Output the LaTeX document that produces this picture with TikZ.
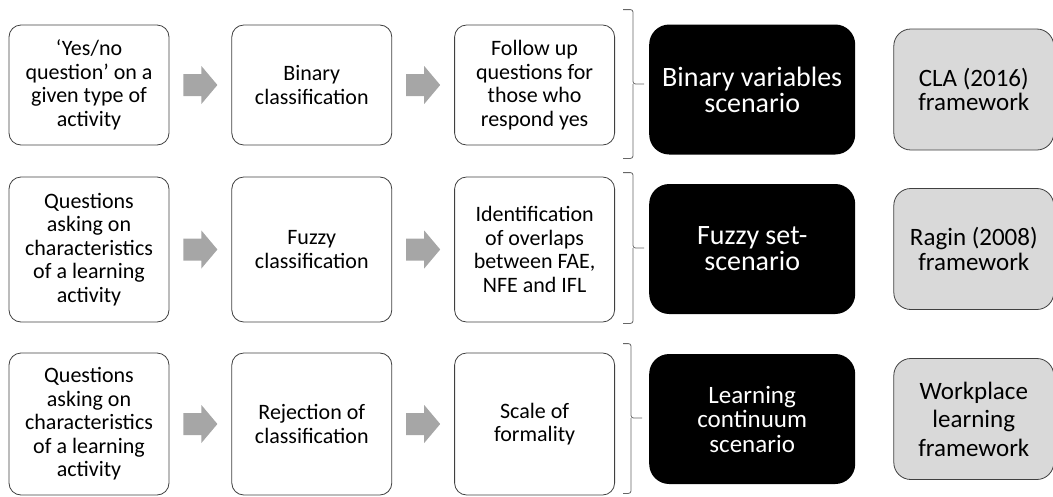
\documentclass[tikz,border=0pt]{standalone}
\usepackage{fontspec}
\setmainfont{Carlito}
\usetikzlibrary{positioning}

\definecolor{arrowgray}{RGB}{166,166,166}
\definecolor{framegray}{RGB}{217,217,217}
\definecolor{edgegray}{RGB}{64,64,64}

\begin{document}
\begin{tikzpicture}[font=\fontsize{22}{23.5}\selectfont, node distance=62pt]
      \tikzset{
        stepbox/.style={draw=edgegray, line width=0.8pt, rounded corners=12pt, align=center, minimum width=160pt, inner sep=2pt},
        scenariobox/.style={fill=black, text=white, rounded corners=20pt, align=center, minimum width=206pt, minimum height=130pt, font=\fontsize{28}{26}\selectfont},
        frameworkbox/.style={draw=edgegray, fill=framegray, line width=0.8pt, rounded corners=17pt, align=center, minimum width=160pt, minimum height=121pt, font=\fontsize{25}{24.5}\selectfont},
        bracket/.style={draw=edgegray!80, line width=0.8pt, rounded corners=2.5pt},
        blockarrow/.pic={\fill[arrowgray] (-17pt,-11pt) -- (1pt,-11pt) -- (1pt,-19pt) -- (17pt,0pt) -- (1pt,19pt) -- (1pt,11pt) -- (-17pt,11pt) -- cycle;}
      }
      \useasboundingbox (0,0) rectangle (1053pt,-496pt);
      % row 1
      \node[stepbox, minimum height=120pt] (ask1) at (89pt,-85pt) {‘Yes/no\\question’ on a\\given type of\\activity};
      \node[stepbox, minimum height=120pt] (cls1) [right=of ask1] {Binary\\classification};
      \node[stepbox, minimum height=120pt] (out1) [right=of cls1] {Follow up\\questions for\\those who\\respond yes};
      \node[scenariobox] (scn1) [right=34pt of out1, yshift=-4.5pt] {Binary variables\\scenario};
      \node[frameworkbox] (frm1) [right=38pt of scn1] {CLA (2016)\\framework};
      % row 2
      \node[stepbox, minimum height=145pt] (ask2) at (89pt,-249.5pt) {Questions\\asking on\\characteristics\\of a learning\\activity};
      \node[stepbox, minimum height=145pt] (cls2) [right=of ask2] {Fuzzy\\classification};
      \node[stepbox, minimum height=145pt] (out2) [right=of cls2] {Identification\\of overlaps\\between FAE,\\NFE and IFL};
      \node[scenariobox] (scn2) [right=34pt of out2, yshift=0.5pt] {Fuzzy set-\\scenario};
      \node[frameworkbox] (frm2) [right=38pt of scn2] {Ragin (2008)\\framework};
      % row 3
      \node[stepbox, minimum height=142pt] (ask3) at (89pt,-424pt) {Questions\\asking on\\characteristics\\of a learning\\activity};
      \node[stepbox, minimum height=142pt] (cls3) [right=of ask3] {Rejection of\\classification};
      \node[stepbox, minimum height=142pt] (out3) [right=of cls3] {Scale of\\formality};
      \node[scenariobox, font=\fontsize{25}{24.5}\selectfont] (scn3) [right=34pt of out3, yshift=5pt] {Learning\\continuum\\scenario};
      \node[frameworkbox, font=\fontsize{25}{28.5}\selectfont] (frm3) [right=38pt of scn3] {Workplace\\learning\\framework};
      % grey block arrows
      \foreach \from/\to in {ask1/cls1, cls1/out1, ask2/cls2, cls2/out2, ask3/cls3, cls3/out3}
        \path (\from) -- pic{blockarrow} (\to);
      % brackets
      \draw[bracket] ([xshift=8pt,yshift=15pt]out1.north east) -| ([xshift=18pt,yshift=1pt]out1.east) -- ([xshift=29pt,yshift=1pt]out1.east);
      \draw[bracket] ([xshift=8pt,yshift=-13pt]out1.south east) -| ([xshift=18pt,yshift=1pt]out1.east);
      \draw[bracket] ([xshift=8pt,yshift=4pt]out2.north east) -| ([xshift=18pt,yshift=1.5pt]out2.east) -- ([xshift=29pt,yshift=1.5pt]out2.east);
      \draw[bracket] ([xshift=8pt,yshift=-1pt]out2.south east) -| ([xshift=18pt,yshift=1.5pt]out2.east);
      \draw[bracket] ([xshift=8pt,yshift=9pt]out3.north east) -| ([xshift=16pt,yshift=6pt]out3.east) -- ([xshift=27pt,yshift=6pt]out3.east);
      \draw[bracket] ([xshift=8pt,yshift=2pt]out3.south east) -| ([xshift=16pt,yshift=6pt]out3.east);
    \end{tikzpicture}
\end{document}
